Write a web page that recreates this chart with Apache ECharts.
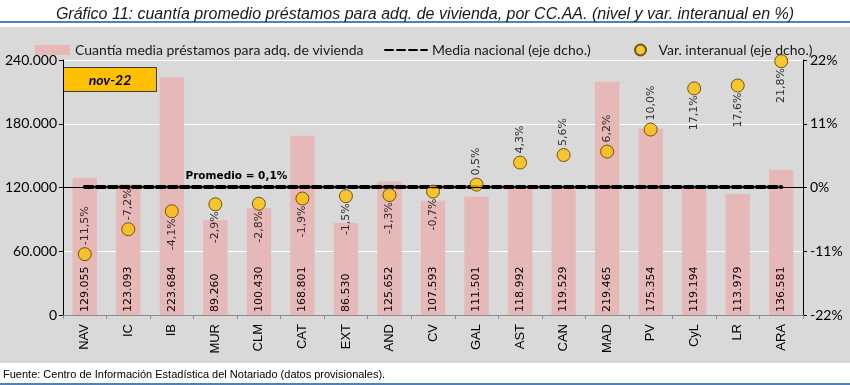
<!DOCTYPE html>
<html><head><meta charset="utf-8">
<script src="https://cdn.jsdelivr.net/npm/echarts@6/dist/echarts.min.js"></script>
<style>
html,body{margin:0;padding:0;background:#fff}
#wrap{position:relative;width:850px;height:385px;overflow:hidden}
#band{position:absolute;left:0;top:27px;width:850px;height:336px;background:#d9d9d9}
.blue{position:absolute;left:0;width:850px;height:2px;background:#4f81bd}
#c{position:absolute;left:0;top:0;width:850px;height:385px}
</style>
</head><body>
<div id="wrap">
<div id="band"></div>
<div class="blue" style="top:21px"></div>
<div class="blue" style="top:383px"></div>
<div id="c"></div>
</div>
<script>
const categories = ['NAV','IC','IB','MUR','CLM','CAT','EXT','AND','CV','GAL','AST','CAN','MAD','PV','CyL','LR','ARA'];
const amounts = [129055,123093,223684,89260,100430,168801,86530,125652,107593,111501,118992,119529,219465,175354,119194,113979,136581];
const variation = [-11.5,-7.2,-4.1,-2.9,-2.8,-1.9,-1.5,-1.3,-0.7,0.5,4.3,5.6,6.2,10.0,17.1,17.6,21.8];
const nationalAvg = 0.1;
const labelBelow = ['IB','MUR','CLM','CAT','EXT','AND','CV','CyL','LR','ARA'];
const seriesNames = ['Cuantía media préstamos para adq. de vivienda','Media nacional (eje dcho.)','Var. interanual (eje dcho.)'];
const periodLabel = 'nov-22';
const avgLabel = 'Promedio = 0,1%';
const sourceNote = 'Fuente: Centro de Información Estadística del Notariado (datos provisionales).';
const titleText = 'Gráfico 11: cuantía promedio préstamos para adq. de vivienda, por CC.AA. (nivel y var. interanual en %)';

const fmtThousands = v => String(Math.round(v)).replace(/\B(?=(\d{3})+(?!\d))/g, '.');
const fmtPct = v => v.toFixed(1).replace('.', ',') + '%';

const chart = echarts.init(document.getElementById('c'), null, {renderer:'canvas'});
const lblFont = 'DejaVu Sans';
const legendText = {fontFamily:'Lato', fontSize:14, color:'#1a1a1a'};

const scatterData = variation.map((v, i) => {
  const below = labelBelow.includes(categories[i]);
  return {
    value: v,
    label: below ? {position:'bottom', align:'right', verticalAlign:'middle', offset:[1,0]}
                 : {position:'top', align:'left', verticalAlign:'middle', offset:[1,0]}
  };
});

const option = {
  backgroundColor: 'transparent',
  animation: false,
  title: {
    text: titleText, left: 'center', top: 2,
    textStyle: {fontFamily:'Liberation Sans', fontStyle:'italic', fontWeight:'normal', fontSize:16, color:'#1a1a1a'}
  },
  legend: [
    {left: 30, top: 38, itemWidth: 35, itemHeight: 10, textStyle: legendText,
      data: [{name: seriesNames[0], icon:'rect'}]},
    {left: 379, top: 38, itemWidth: 42, itemHeight: 10, textStyle: legendText,
      data: [{name: seriesNames[1], itemStyle:{opacity:0}}]},
    {left: 629, top: 38, itemWidth: 26, itemHeight: 11, textStyle: legendText,
      data: [{name: seriesNames[2], icon:'circle'}]}
  ],
  grid: {left: 63, right: 47, top: 60, bottom: 70, containLabel: false},
  xAxis: {
    type: 'category', data: categories,
    axisLine: {show:true, lineStyle:{color:'#8c8c8c'}},
    axisTick: {show:true, length:4, lineStyle:{color:'#8c8c8c'}},
    axisLabel: {rotate:90, fontFamily:'Liberation Sans', fontSize:13, color:'#000', margin:9}
  },
  yAxis: [
    {
      type:'value', min:0, max:240000, interval:60000,
      axisLine:{show:true, lineStyle:{color:'#000'}},
      axisTick:{show:true, length:4, lineStyle:{color:'#000'}},
      splitLine:{show:true, lineStyle:{color:'#ffffff', width:1}},
      axisLabel:{formatter: fmtThousands, fontFamily:'Lato', fontSize:14, color:'#000', margin:6}
    },
    {
      type:'value', min:-22, max:22, interval:11,
      axisLine:{show:true, lineStyle:{color:'#000'}},
      axisTick:{show:true, length:4, lineStyle:{color:'#000'}},
      splitLine:{show:false},
      axisLabel:{formatter: v => Math.round(v) + '%', fontFamily:'Lato', fontSize:14, color:'#000', margin:7}
    }
  ],
  series: [
    {
      name: seriesNames[0], type:'bar', data: amounts, yAxisIndex:0, barWidth:'56%',
      itemStyle:{color:'#e6b9b8'},
      label:{show:true, position:'insideBottom', rotate:90, align:'left', verticalAlign:'middle', distance:3,
        formatter: p => fmtThousands(p.value), fontFamily:lblFont, fontSize:11, color:'#000'},
      z: 1
    },
    {
      name: seriesNames[1], type:'line', yAxisIndex:1, data: categories.map(() => nationalAvg),
      symbol:'none', lineStyle:{color:'#000', width:4, type:[8,4], cap:'round'},
      itemStyle:{color:'#000'},
      markLine:{silent:true, symbol:['none','none'], label:{show:false},
        lineStyle:{color:'#000', width:1, type:'solid'}, data:[{yAxis:0}]},
      markPoint:{
        symbol:'rect', symbolSize:1, itemStyle:{color:'transparent'},
        label:{show:true, formatter: avgLabel, position:'top', distance:5, offset:[21,0],
          fontFamily:'DejaVu Sans', fontWeight:'bold', fontSize:10.5, color:'#000'},
        data:[{coord:['MUR', nationalAvg]}]
      },
      z: 3
    },
    {
      name: seriesNames[2], type:'scatter', yAxisIndex:1, data: scatterData,
      symbol:'circle', symbolSize:13,
      itemStyle:{color:'#ffc000', borderColor:'#4a3800', borderWidth:1},
      label:{show:true, rotate:90, distance:1, formatter: p => fmtPct(p.value),
        fontFamily:lblFont, fontSize:11, color:'#000'},
      z: 4
    }
  ],
  graphic: [
    {type:'group', left:63, top:67, z:100, children:[
      {type:'rect', shape:{x:0, y:0, width:93, height:24},
        style:{fill:'#ffc000', stroke:'#3a3a3a', lineWidth:1}},
      {type:'text', style:{x:46.5, y:12.5, text: periodLabel, align:'center', verticalAlign:'middle',
        font:'italic bold 14px Lato', fill:'#000'}}
    ]},
    {type:'text', left:3, top:369, z:101,
      style:{text: sourceNote, font:'11px "Liberation Sans"', fill:'#000'}}
  ]
};
chart.setOption(option);
</script>
</body></html>
